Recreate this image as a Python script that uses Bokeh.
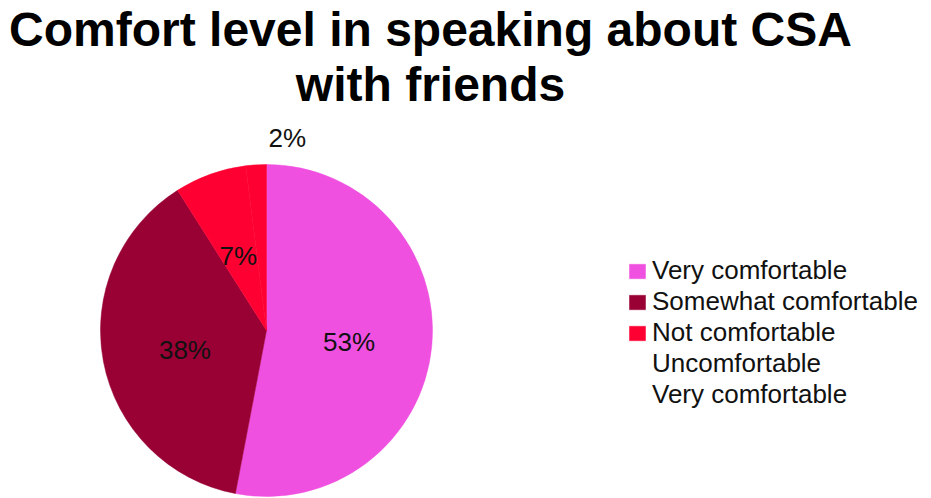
import math
from bokeh.plotting import figure
from bokeh.models import ColumnDataSource, Range1d, Legend, LegendItem, Label
from bokeh.embed import file_html
from bokeh.resources import INLINE
from bokeh.core.properties import value

# ---- data ----
title_lines = ["Comfort level in speaking about CSA", "with friends"]
categories = ["Very comfortable", "Somewhat comfortable", "Not comfortable", "Uncomfortable"]
percents = [53, 38, 7, 2]
slice_colors = ["#F050E0", "#990033", "#FF0033", "#FF0033"]
legend_labels = ["Very comfortable", "Somewhat comfortable", "Not comfortable",
                 "Uncomfortable", "Very comfortable"]
legend_slice_index = [0, 1, 2, None, None]

# ---- layout ----
W, H = 931, 498
CX, CY_SCREEN, R = 266, 330, 166
CY = H - CY_SCREEN
label_radius_factor = [0.5, 0.5, 0.5, 1.16]
label_x_offset = [0, 0, 0, 33]
label_y_offset = [-4, -4, -4, 0]
FONT = "Liberation Sans"

total = sum(percents)
starts, ends, lx, ly, ltext = [], [], [], [], []
cum = 0.0
for i, v in enumerate(percents):
    a0 = math.pi / 2 - 2 * math.pi * cum / total
    cum += v
    a1 = math.pi / 2 - 2 * math.pi * cum / total
    starts.append(a0)
    ends.append(a1)
    mid = (a0 + a1) / 2
    rr = R * label_radius_factor[i]
    lx.append(CX + rr * math.cos(mid) + label_x_offset[i])
    ly.append(CY + rr * math.sin(mid) + label_y_offset[i])
    ltext.append(f"{v}%")

src = ColumnDataSource(dict(x=[CX] * len(percents), y=[CY] * len(percents),
                            start=starts, end=ends, color=slice_colors,
                            cat=categories))
lab_src = ColumnDataSource(dict(x=lx, y=ly, text=ltext))

p = figure(width=W, height=H, output_backend="svg", toolbar_location=None,
           x_range=Range1d(0, W), y_range=Range1d(0, H), min_border=0,
           outline_line_color=None, background_fill_color="white")
p.axis.visible = False
p.grid.visible = False

wedges = p.wedge(x="x", y="y", radius=R, start_angle="start", end_angle="end",
                 direction="clock", fill_color="color", line_color="color",
                 line_width=0.5, source=src)

p.text(x="x", y="y", text="text", source=lab_src, text_align="center",
       text_baseline="middle", text_font=value(FONT), text_font_size="26px",
       text_color="#111111")

# titles
p.add_layout(Label(x=430, y=H - 29, text=title_lines[0], text_align="center",
                   text_baseline="alphabetic", text_font=FONT,
                   text_font_size="48px", text_font_style="bold", text_color="black"))
p.add_layout(Label(x=430, y=H - 84, text=title_lines[1], text_align="center",
                   text_baseline="alphabetic", text_font=FONT,
                   text_font_size="48px", text_font_style="bold", text_color="black"))

blank = p.scatter(x=[], y=[], fill_alpha=0, line_alpha=0)

items = []
for lab, idx in zip(legend_labels, legend_slice_index):
    if idx is None:
        items.append(LegendItem(label=lab, renderers=[blank]))
    else:
        items.append(LegendItem(label=lab, renderers=[wedges], index=idx))

legend = Legend(items=items, location=(627, 88), glyph_width=20, glyph_height=18,
                label_standoff=5, spacing=0, padding=0, margin=0,
                border_line_color=None, background_fill_alpha=0,
                label_text_font=FONT, label_text_font_size="26px",
                label_text_color="#111111")
p.add_layout(legend)

open("out.html", "w").write(file_html(p, INLINE))
